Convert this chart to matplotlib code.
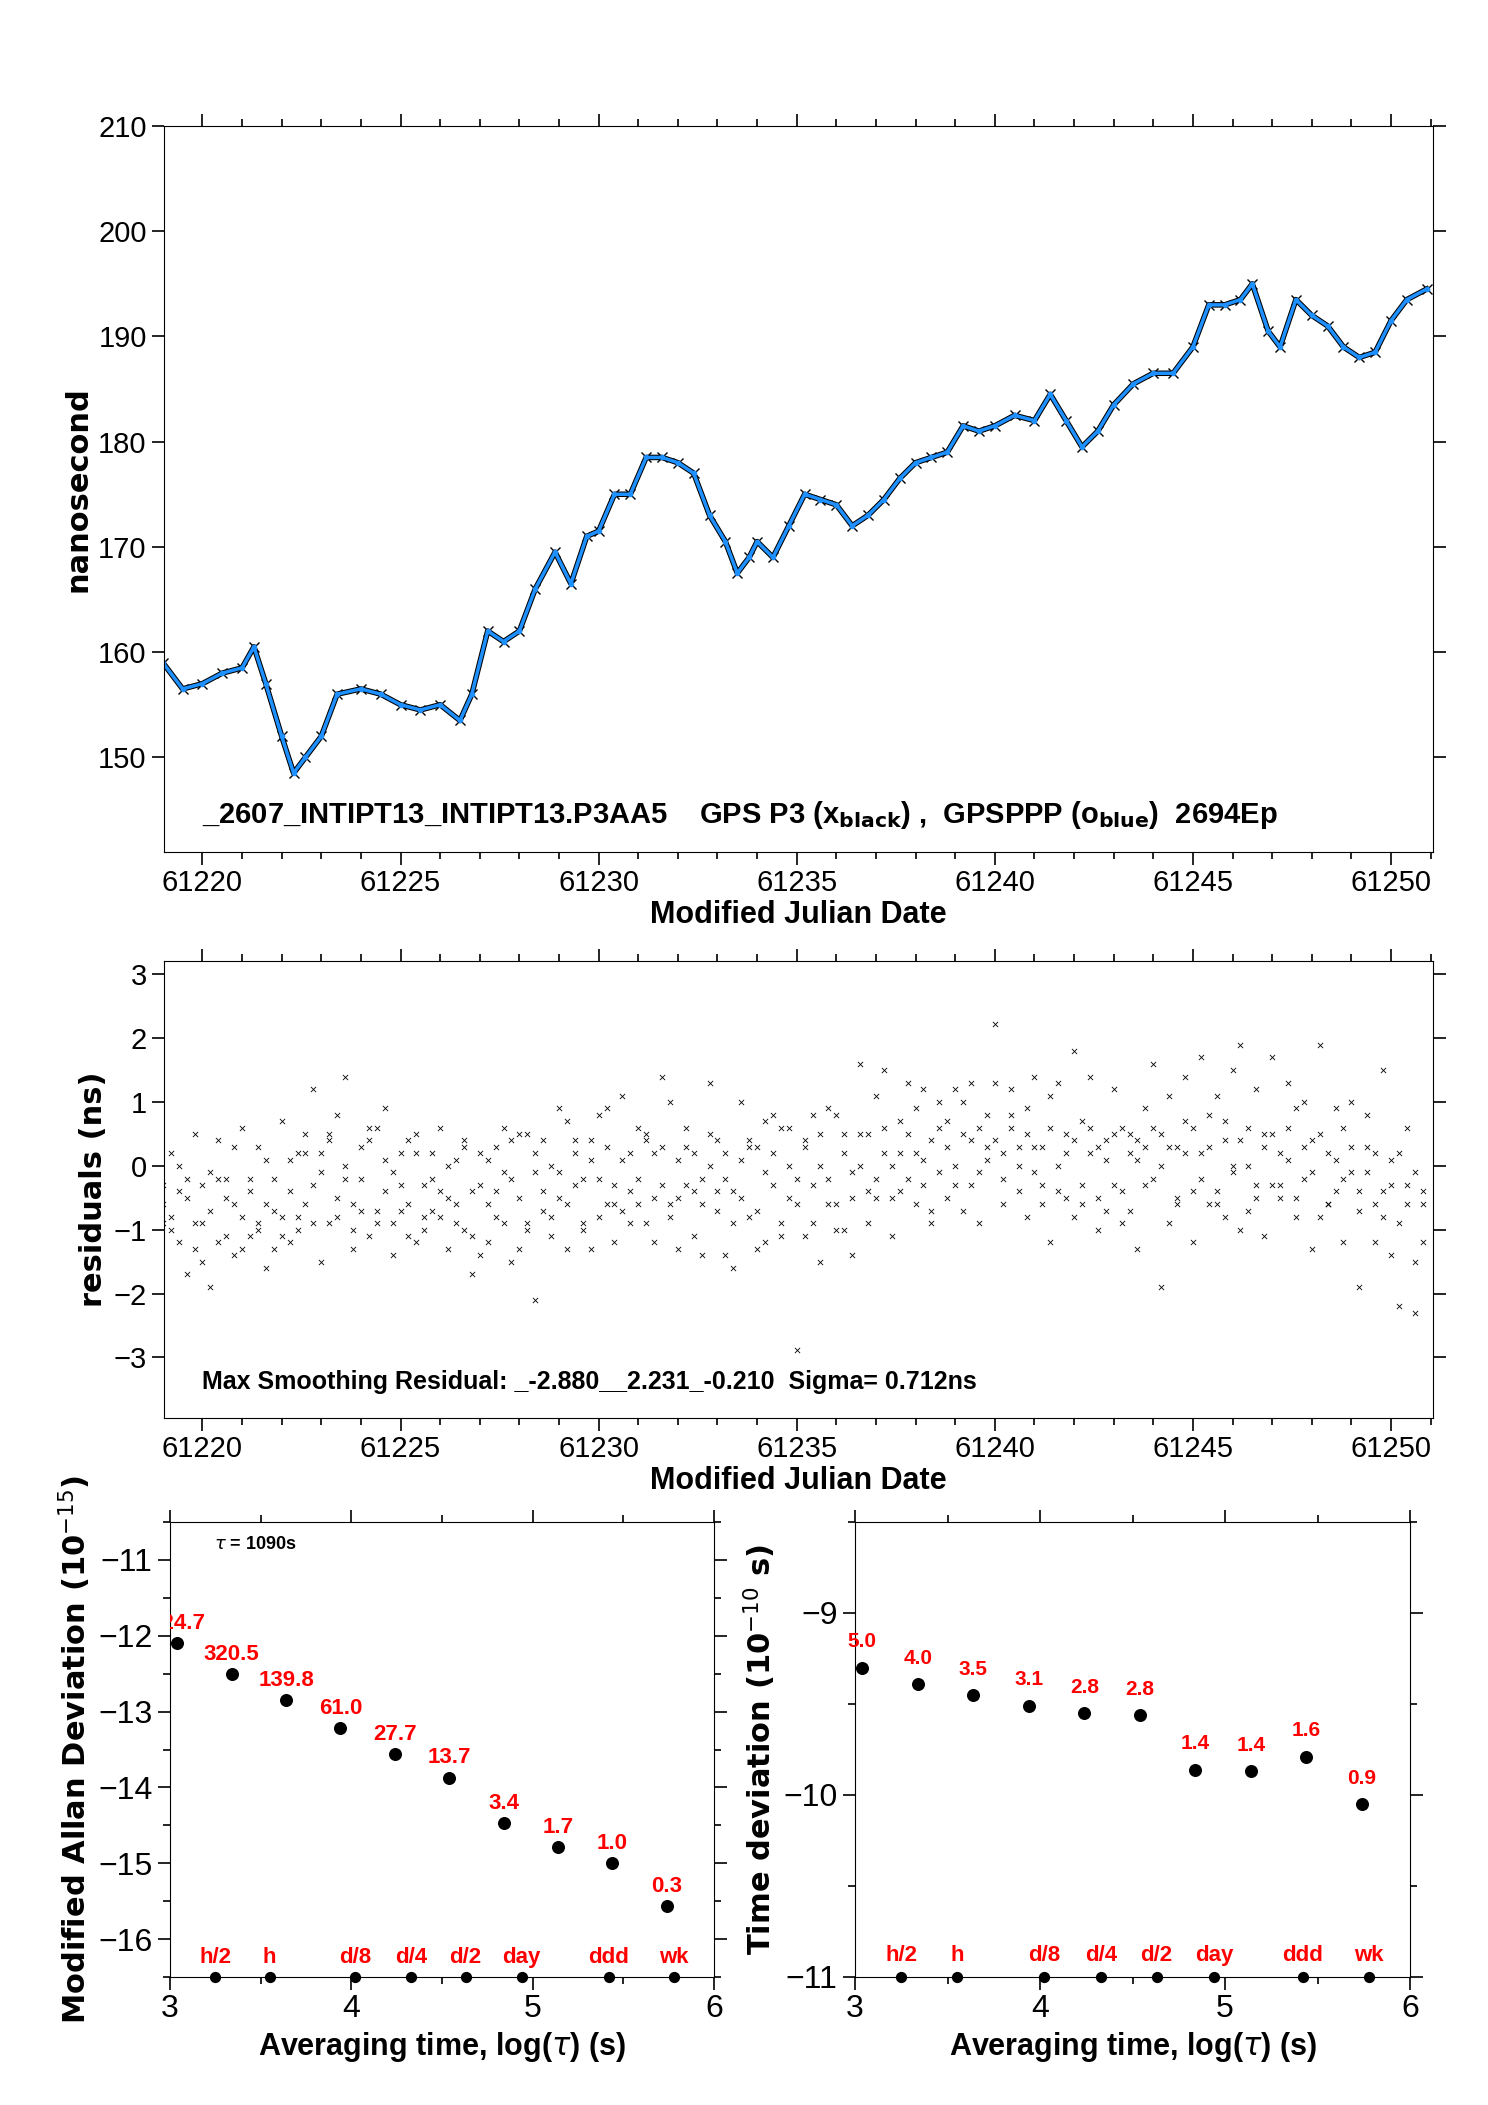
import numpy as np
import matplotlib
matplotlib.use("Agg")
import matplotlib.pyplot as plt
from matplotlib.ticker import MultipleLocator

plt.rcParams['font.family'] = ['Liberation Sans Narrow', 'Liberation Sans', 'DejaVu Sans']

# ---- data ----
mjd = [61219.0, 61219.5, 61220.0, 61220.5, 61221.0, 61221.3, 61221.6, 61222.0, 61222.3, 61222.6,
       61223.0, 61223.4, 61224.0, 61224.5, 61225.0, 61225.5, 61226.0, 61226.5, 61226.8, 61227.2,
       61227.6, 61228.0, 61228.4, 61228.9, 61229.3, 61229.7, 61230.0, 61230.4, 61230.8, 61231.2,
       61231.6, 61232.0, 61232.4, 61232.8, 61233.2, 61233.5, 61233.8, 61234.0, 61234.4, 61234.8,
       61235.2, 61235.6, 61236.0, 61236.4, 61236.8, 61237.2, 61237.6, 61238.0, 61238.4, 61238.8,
       61239.2, 61239.6, 61240.0, 61240.5, 61241.0, 61241.4, 61241.8, 61242.2, 61242.6, 61243.0,
       61243.5, 61244.0, 61244.5, 61245.0, 61245.4, 61245.8, 61246.2, 61246.5, 61246.9, 61247.2,
       61247.6, 61248.0, 61248.4, 61248.8, 61249.2, 61249.6, 61250.0, 61250.4, 61250.9]
ns = [159.0, 156.5, 157.0, 158.0, 158.5, 160.5, 157.0, 152.0, 148.5, 150.0,
      152.0, 156.0, 156.5, 156.0, 155.0, 154.5, 155.0, 153.5, 156.0, 162.0,
      161.0, 162.0, 166.0, 169.5, 166.5, 171.0, 171.5, 175.0, 175.0, 178.5,
      178.5, 178.0, 177.0, 173.0, 170.5, 167.5, 169.0, 170.5, 169.0, 172.0,
      175.0, 174.5, 174.0, 172.0, 173.0, 174.5, 176.5, 178.0, 178.5, 179.0,
      181.5, 181.0, 181.5, 182.5, 182.0, 184.5, 182.0, 179.5, 181.0, 183.5,
      185.5, 186.5, 186.5, 189.0, 193.0, 193.0, 193.5, 195.0, 190.5, 189.0,
      193.5, 192.0, 191.0, 189.0, 188.0, 188.5, 191.5, 193.5, 194.5]

res_mjd = [61219.0, 61219.2, 61219.4, 61219.6, 61219.8, 61220.0, 61220.2, 61220.4, 61220.6, 61220.8,
           61221.0, 61221.2, 61221.4, 61221.6, 61221.8, 61222.0, 61222.2, 61222.4, 61222.6, 61222.8,
           61223.0, 61223.2, 61223.4, 61223.6, 61223.8, 61224.0, 61224.2, 61224.4, 61224.6, 61224.8,
           61225.0, 61225.2, 61225.4, 61225.6, 61225.8, 61226.0, 61226.2, 61226.4, 61226.6, 61226.8,
           61227.0, 61227.2, 61227.4, 61227.6, 61227.8, 61228.0, 61228.2, 61228.4, 61228.6, 61228.8,
           61229.0, 61229.2, 61229.4, 61229.6, 61229.8, 61230.0, 61230.2, 61230.4, 61230.6, 61230.8,
           61231.0, 61231.2, 61231.4, 61231.6, 61231.8, 61232.0, 61232.2, 61232.4, 61232.6, 61232.8,
           61233.0, 61233.2, 61233.4, 61233.6, 61233.8, 61234.0, 61234.2, 61234.4, 61234.6, 61234.8,
           61235.0, 61235.2, 61235.4, 61235.6, 61235.8, 61236.0, 61236.2, 61236.4, 61236.6, 61236.8,
           61237.0, 61237.2, 61237.4, 61237.6, 61237.8, 61238.0, 61238.2, 61238.4, 61238.6, 61238.8,
           61239.0, 61239.2, 61239.4, 61239.6, 61239.8, 61240.0, 61240.2, 61240.4, 61240.6, 61240.8,
           61241.0, 61241.2, 61241.4, 61241.6, 61241.8, 61242.0, 61242.2, 61242.4, 61242.6, 61242.8,
           61243.0, 61243.2, 61243.4, 61243.6, 61243.8, 61244.0, 61244.2, 61244.4, 61244.6, 61244.8,
           61245.0, 61245.2, 61245.4, 61245.6, 61245.8, 61246.0, 61246.2, 61246.4, 61246.6, 61246.8,
           61247.0, 61247.2, 61247.4, 61247.6, 61247.8, 61248.0, 61248.2, 61248.4, 61248.6, 61248.8,
           61249.0, 61249.2, 61249.4, 61249.6, 61249.8, 61250.0, 61250.2, 61250.4, 61250.6, 61250.8]
res_a = [-0.3, -0.8, -1.2, -0.5, -0.9, -1.5, -0.7, -0.2, -1.1, -0.6,
         -1.3, -0.4, -0.9, -1.6, -0.2, -0.8, 0.1, -1.0, 0.5, -0.3,
         0.2, -0.9, 0.8, -0.2, -0.6, 0.3, -1.1, 0.6, -0.4, -0.1,
         -0.7, 0.4, -1.2, -0.3, 0.2, -0.8, -0.5, 0.1, -1.0, -0.4,
         -1.4, -0.6, 0.3, -0.9, -0.2, -1.3, 0.5, -0.1, -0.7, 0.0,
         -0.5, 0.7, -0.3, -1.0, 0.4, -0.2, 0.9, -0.6, 0.1, -0.4,
         0.6, -0.9, 0.2, -0.3, 1.0, -0.5, 0.3, -1.1, -0.2, 0.5,
         -0.7, -1.4, -0.4, 0.1, -0.8, 0.3, -1.2, -0.3, 0.6, -0.5,
         -0.2, 0.4, -0.9, 0.0, -0.6, 0.8, -1.0, -0.1, 0.5, -0.4,
         1.1, 0.2, -0.5, 0.7, -0.2, 0.9, 0.1, -0.7, 0.6, 0.3,
         -0.3, 1.0, 0.4, -0.1, 0.8, 1.3, 0.2, 0.6, -0.4, 0.9,
         0.3, -0.6, 1.1, 0.0, 0.5, -0.8, 0.7, 0.2, -1.0, 0.4,
         -0.3, 0.6, -0.7, 0.1, 0.9, -0.2, 0.5, -0.9, 0.3, 0.7,
         -0.4, 0.2, 0.8, -0.6, 0.4, 0.0, -1.0, 0.6, -0.3, 0.3,
         0.5, -0.5, 0.1, 0.9, -0.2, 0.4, -0.8, 0.2, -0.4, 0.6,
         -0.1, -0.7, 0.3, -1.2, -0.4, 0.1, -0.9, -0.3, -1.5, -0.6]
res_b = [-0.9, 0.2, -0.4, -1.7, 0.5, -0.3, -1.9, 0.4, -0.2, -1.4,
         0.6, -1.1, 0.3, -0.6, -1.3, 0.7, -1.2, 0.2, -0.6, 1.2,
         -1.5, 0.4, -0.8, 1.4, -1.3, -0.7, 0.6, -0.9, 0.9, -1.4,
         0.2, -1.1, 0.5, -1.0, -0.7, 0.6, -1.3, -0.9, 0.4, -1.7,
         0.2, -1.2, -0.4, 0.6, -1.5, 0.5, -1.0, -2.1, 0.4, -1.1,
         0.9, -1.3, 0.2, -0.9, -1.3, 0.8, -0.6, -1.2, 1.1, -0.9,
         -0.6, 0.5, -1.2, 1.4, -0.6, -1.3, 0.6, -0.4, -1.4, 1.3,
         0.4, -0.2, -1.6, 1.0, 0.3, -1.3, 0.7, 0.8, -1.1, 0.6,
         -2.88, -1.1, 0.8, -1.5, 0.9, -1.0, 0.5, -1.4, 1.6, -0.9,
         -0.5, 1.5, -1.1, 0.2, 1.3, -0.6, 1.2, -0.9, 1.0, -0.5,
         1.2, -0.7, 1.3, -0.9, 0.3, 2.23, -0.6, 1.2, 0.3, -0.8,
         1.4, -0.3, -1.2, 1.3, -0.5, 1.8, -0.6, 1.4, 0.3, -0.7,
         1.2, -0.9, 0.5, -1.3, 0.3, 1.6, -1.9, 1.1, -0.6, 1.4,
         -1.2, 1.7, -0.6, 1.1, -0.8, 1.5, 1.9, -0.7, 1.2, -1.1,
         1.7, -0.3, 1.3, -0.8, 1.0, -1.3, 1.9, -0.6, 0.9, -1.2,
         1.0, -1.9, 0.8, -0.6, 1.5, -1.4, -2.2, 0.6, -2.3, -1.2]
res_c = [-0.6, -1.0, 0.0, -0.2, -1.3, -0.9, -0.1, -1.2, -0.5, 0.3,
         -0.8, -0.2, -1.0, 0.1, -0.7, -1.1, -0.4, -0.8, 0.2, -0.9,
         -0.1, 0.5, -0.5, 0.0, -1.0, -0.2, 0.4, -0.7, 0.1, -0.9,
         -0.3, -0.6, 0.2, -0.8, -0.2, -0.4, 0.0, -0.6, 0.3, -1.1,
         -0.3, 0.1, -0.8, -0.1, 0.4, -0.5, -0.9, 0.2, -0.4, -0.8,
         -0.1, -0.6, 0.4, -0.2, 0.1, -0.8, 0.3, -0.3, -0.7, 0.2,
         -0.2, 0.4, -0.5, 0.3, -0.8, 0.1, -0.3, 0.2, -0.6, 0.0,
         -0.4, 0.2, -0.9, -0.5, 0.4, -0.7, -0.1, 0.2, -0.9, 0.0,
         -0.6, 0.3, -0.3, 0.5, -0.2, -0.6, 0.2, -0.5, 0.0, 0.5,
         -0.2, 0.6, 0.0, -0.4, 0.5, 0.2, -0.3, 0.4, -0.1, 0.7,
         0.0, 0.5, -0.3, 0.6, 0.1, 0.4, -0.2, 0.8, 0.0, 0.5,
         -0.1, 0.3, 0.6, -0.4, 0.2, 0.4, -0.3, 0.6, -0.5, 0.1,
         0.5, -0.4, 0.2, 0.4, -0.3, 0.6, 0.0, 0.3, -0.5, 0.2,
         0.6, -0.2, 0.3, -0.4, 0.7, -0.1, 0.4, 0.0, -0.5, 0.5,
         -0.3, 0.2, 0.6, -0.5, 0.3, -0.1, 0.5, -0.6, 0.1, -0.2,
         0.3, -0.4, -0.1, 0.2, -0.8, -0.3, 0.2, -0.6, -0.1, -0.4]

x_adev = [3.04, 3.34, 3.64, 3.94, 4.24, 4.54, 4.84, 5.14, 5.44, 5.74]
adev = [-12.1, -12.5, -12.85, -13.22, -13.56, -13.87, -14.47, -14.79, -15.0, -15.56]
adev_lbl = ["724.7", "320.5", "139.8", "61.0", "27.7", "13.7", "3.4", "1.7", "1.0", "0.3"]
tdev = [-9.3, -9.39, -9.45, -9.51, -9.55, -9.56, -9.86, -9.87, -9.79, -10.05]
tdev_lbl = ["5.0", "4.0", "3.5", "3.1", "2.8", "2.8", "1.4", "1.4", "1.6", "0.9"]
x_mark = [3.25, 3.55, 4.02, 4.33, 4.63, 4.94, 5.42, 5.78]
mark_lbl = ["h/2", "h", "d/8", "d/4", "d/2", "day", "ddd", "wk"]

W, H = 1488, 2105
fig = plt.figure(figsize=(W / 100, H / 100), dpi=100)

def ax_px(l, r, t, b):
    return fig.add_axes([l / W, 1 - b / H, (r - l) / W, (b - t) / H])

TICKFS = 21
LABFS = 22

def style(ax, fs=TICKFS):
    ax.tick_params(which='both', direction='out', top=True, right=True, labelsize=fs,
                   width=1.2)
    ax.tick_params(which='major', length=9)
    ax.tick_params(which='minor', length=5)

# ---- top panel ----
ax1 = ax_px(164, 1433, 126, 852)
ax1.plot(mjd, ns, color='black', lw=4, marker='x', ms=7, mew=1)
ax1.plot(mjd, ns, color='#1e90ff', lw=2.5, ls='-', marker='.', ms=6)
ax1.set_xlim(61219.03, 61251.06)
ax1.set_ylim(141.0, 210)
ax1.xaxis.set_major_locator(MultipleLocator(5))
ax1.xaxis.set_minor_locator(MultipleLocator(1))
ax1.yaxis.set_major_locator(MultipleLocator(10))
style(ax1)
ax1.set_xlabel("Modified Julian Date", fontsize=LABFS, fontweight='bold', labelpad=2)
ax1.set_ylabel("nanosecond", fontsize=LABFS, fontweight='bold', family='DejaVu Sans')
ax1.text(61220.0, 143.8,
         r"_2607_INTIPT13_INTIPT13.P3AA5    GPS P3 (x$_{\mathbf{black}}$) ,  GPSPPP (o$_{\mathbf{blue}}$)  2694Ep",
         fontsize=21, fontweight='bold')

# ---- middle panel ----
ax2 = ax_px(164, 1433, 961, 1418)
for r in (res_a, res_b, res_c):
    ax2.scatter(res_mjd, r, marker='x', s=14, color='black', linewidths=0.6)
ax2.set_xlim(61219.03, 61251.06)
ax2.set_ylim(-3.95, 3.21)
ax2.xaxis.set_major_locator(MultipleLocator(5))
ax2.xaxis.set_minor_locator(MultipleLocator(1))
style(ax2)
ax2.set_yticks([-3, -2, -1, 0, 1, 2, 3])
ax2.set_yticklabels(["\u22123", "\u22122", "\u22121", "0", "1", "2", "3"])
ax2.set_xlabel("Modified Julian Date", fontsize=LABFS, fontweight='bold', labelpad=2)
ax2.set_ylabel("residuals (ns)", fontsize=LABFS, fontweight='bold', family='DejaVu Sans')
ax2.text(61220.0, -3.5, "Max Smoothing Residual: _-2.880__2.231_-0.210  Sigma= 0.712ns",
         fontsize=18, fontweight='bold')

# ---- bottom left ----
ax3 = ax_px(170, 714, 1522, 1977)
ax3.scatter(x_adev, adev, s=70, color='black', zorder=3)
for x, y, t in zip(x_adev, adev, adev_lbl):
    ax3.text(x, y + 0.12, t, color='red', fontsize=16, fontweight='bold', ha='center', va='bottom', clip_on=True)
ax3.scatter(x_mark, [-16.5] * len(x_mark), s=50, color='black', zorder=3, clip_on=False)
for x, t in zip(x_mark, mark_lbl):
    ax3.text(x, -16.38, t, color='red', fontsize=16, fontweight='bold', ha='center', va='bottom')
ax3.set_xlim(3, 6)
ax3.set_ylim(-16.5, -10.5)
ax3.xaxis.set_major_locator(MultipleLocator(1))
ax3.xaxis.set_minor_locator(MultipleLocator(0.5))
ax3.yaxis.set_minor_locator(MultipleLocator(0.5))
style(ax3, 23)
ax3.set_yticks([-16, -15, -14, -13, -12, -11])
ax3.set_yticklabels(["\u221216", "\u221215", "\u221214", "\u221213", "\u221212", "\u221211"])
ax3.set_xlabel(r"Averaging time, log($\tau$) (s)", fontsize=LABFS, fontweight='bold')
ax3.set_ylabel(r"Modified Allan Deviation (10$^{-15}$)", fontsize=LABFS, fontweight='bold', family='DejaVu Sans')
ax3.text(0.08, 0.95, r"$\tau$ = 1090s", transform=ax3.transAxes, fontsize=13, fontweight='bold', va='center')

# ---- bottom right ----
ax4 = ax_px(855, 1410, 1522, 1977)
ax4.scatter(x_adev, tdev, s=70, color='black', zorder=3)
for x, y, t in zip(x_adev, tdev, tdev_lbl):
    ax4.text(x, y + 0.09, t, color='red', fontsize=15, fontweight='bold', ha='center', va='bottom')
ax4.scatter(x_mark, [-11.0] * len(x_mark), s=50, color='black', zorder=3, clip_on=False)
for x, t in zip(x_mark, mark_lbl):
    ax4.text(x, -10.94, t, color='red', fontsize=16, fontweight='bold', ha='center', va='bottom')
ax4.set_xlim(3, 6)
ax4.set_ylim(-11.0, -8.5)
ax4.xaxis.set_major_locator(MultipleLocator(1))
ax4.xaxis.set_minor_locator(MultipleLocator(0.5))
ax4.yaxis.set_minor_locator(MultipleLocator(0.5))
style(ax4, 23)
ax4.set_yticks([-11, -10, -9])
ax4.set_yticklabels(["\u221211", "\u221210", "\u22129"])
ax4.set_xlabel(r"Averaging time, log($\tau$) (s)", fontsize=LABFS, fontweight='bold')
ax4.set_ylabel(r"Time deviation (10$^{-10}$ s)", fontsize=LABFS, fontweight='bold', family='DejaVu Sans')

fig.savefig("out.png", dpi=100)
